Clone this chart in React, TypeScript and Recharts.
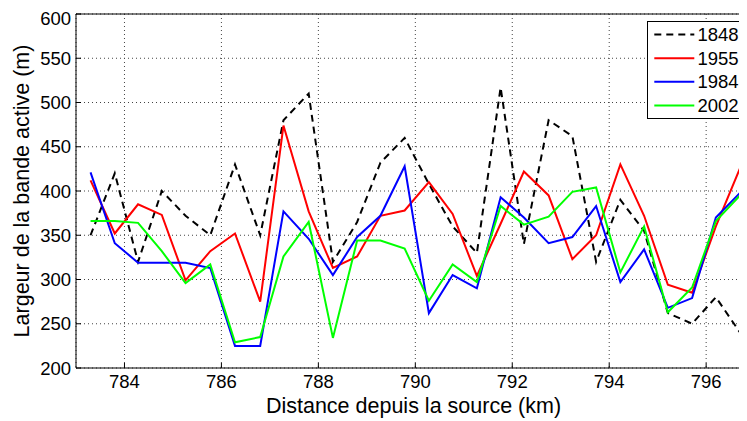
import React from 'react';
import { LineChart, Line, XAxis, YAxis, CartesianGrid, ReferenceLine, Legend } from 'recharts';

const km = [783.3, 783.8, 784.28, 784.77, 785.26, 785.77, 786.28, 786.8, 787.28, 787.8, 788.3, 788.8, 789.28, 789.78, 790.28, 790.77, 791.27, 791.76, 792.24, 792.75, 793.24, 793.73, 794.23, 794.72, 795.21, 795.71, 796.2, 796.7, 797.2];
const y1848 = [350, 420, 320, 400, 372, 350, 430, 350, 480, 510, 320, 365, 432, 460, 408, 360, 330, 517, 340, 480, 462, 320, 390, 355, 262, 250, 280, 240, 310];
const y1955 = [412, 352, 385, 373, 299, 332, 352, 275, 474, 377, 313, 326, 372, 378, 410, 374, 304, 363, 422, 395, 323, 350, 430, 372, 294, 285, 360, 426, 420];
const y1984 = [421, 341, 319, 319, 319, 313, 225, 225, 377, 346, 305, 348, 372, 428, 262, 305, 290, 393, 370, 341, 348, 383, 297, 334, 268, 279, 370, 398, 290];
const y2002 = [366, 366, 364, 332, 296, 317, 229, 235, 326, 365, 234, 344, 344, 335, 276, 317, 297, 383, 362, 371, 399, 404, 308, 360, 263, 291, 366, 395, 370];

const xTicks = [784, 786, 788, 790, 792, 794, 796];
const yTicks = [200, 250, 300, 350, 400, 450, 500, 550, 600];
const seriesNames = ['1848', '1955', '1984', '2002'];

const data = km.map((k, i) => ({
  km: k,
  s1848: y1848[i],
  s1955: y1955[i],
  s1984: y1984[i],
  s2002: y2002[i],
}));

const series = [
  { key: 's1848', name: seriesNames[0], color: '#000000', dash: '7 5' },
  { key: 's1955', name: seriesNames[1], color: '#ff0000', dash: undefined },
  { key: 's1984', name: seriesNames[2], color: '#0000ff', dash: undefined },
  { key: 's2002', name: seriesNames[3], color: '#00ff00', dash: undefined },
];

const FONT = 'Liberation Sans';

const renderLegend = () => (
  <svg width={106} height={98} style={{ display: 'block', overflow: 'visible' }}>
    <rect x={0.5} y={0.5} width={104} height={97} fill="#ffffff" stroke="#000000" strokeWidth={1} />
    {series.map((s, i) => {
      const cy = 13.6 + i * 23.6;
      return (
        <g key={s.key}>
          <line x1={7.3} x2={47.3} y1={cy} y2={cy} stroke={s.color} strokeWidth={2} strokeDasharray={s.dash} />
          <text x={50.5} y={cy} dy="0.35em" fontSize={18.5} fontFamily={FONT} fill="#000">
            {s.name}
          </text>
        </g>
      );
    })}
  </svg>
);

const XLabel = (props: any) => {
  const vb = props.viewBox || {};
  const cx = vb.x + (739 - vb.x) / 2 + 2;
  return (
    <text x={cx} y={405} textAnchor="middle" fontSize={21.5} fontFamily={FONT} fill="#000">
      Distance depuis la source (km)
    </text>
  );
};

export default function App() {
  return (
    <div style={{ width: 739, height: 413, overflow: 'hidden', background: '#fff' }}>
      <LineChart
        width={820}
        height={413}
        data={data}
        margin={{ top: 6, right: 24.9, bottom: 0, left: 0 }}
        style={{ fontFamily: FONT }}
      >
        <CartesianGrid stroke="#444" strokeDasharray="1 3" vertical horizontal />
        <XAxis
          type="number"
          dataKey="km"
          domain={[783, 798]}
          ticks={xTicks}
          allowDataOverflow
          height={53}
          stroke="#000"
          tickSize={-5}
          tickMargin={12}
          tick={{ fill: '#000', fontSize: 18.5, fontFamily: FONT }}
          label={{ content: <XLabel /> }}
        />
        <XAxis
          xAxisId="top"
          orientation="top"
          type="number"
          dataKey="km"
          domain={[783, 798]}
          ticks={xTicks}
          allowDataOverflow
          height={0}
          stroke="#000"
          tickSize={-5}
          tick={false}
        />
        <YAxis
          type="number"
          domain={[200, 600]}
          ticks={yTicks}
          allowDataOverflow
          width={68}
          stroke="#000"
          tickSize={-5}
          tickMargin={10}
          tick={{ fill: '#000', fontSize: 18.5, fontFamily: FONT }}
          label={{
            value: 'Largeur de la bande active (m)',
            angle: -90,
            position: 'insideLeft',
            offset: 13,
            style: { textAnchor: 'middle', fontSize: 21.5, fontFamily: FONT, fill: '#000' },
          }}
        />
        <ReferenceLine y={600} stroke="#000" strokeWidth={1} />
        {series.map((s) => (
          <Line
            key={s.key}
            type="linear"
            dataKey={s.key}
            name={s.name}
            stroke={s.color}
            strokeWidth={2}
            strokeDasharray={s.dash}
            dot={false}
            activeDot={false}
            isAnimationActive={false}
          />
        ))}
        <Legend
          layout="horizontal"
          verticalAlign="middle"
          align="center"
          content={renderLegend}
          wrapperStyle={{ position: 'absolute', left: 638.7, top: 12.7, width: 106, height: 98 }}
        />
      </LineChart>
    </div>
  );
}
